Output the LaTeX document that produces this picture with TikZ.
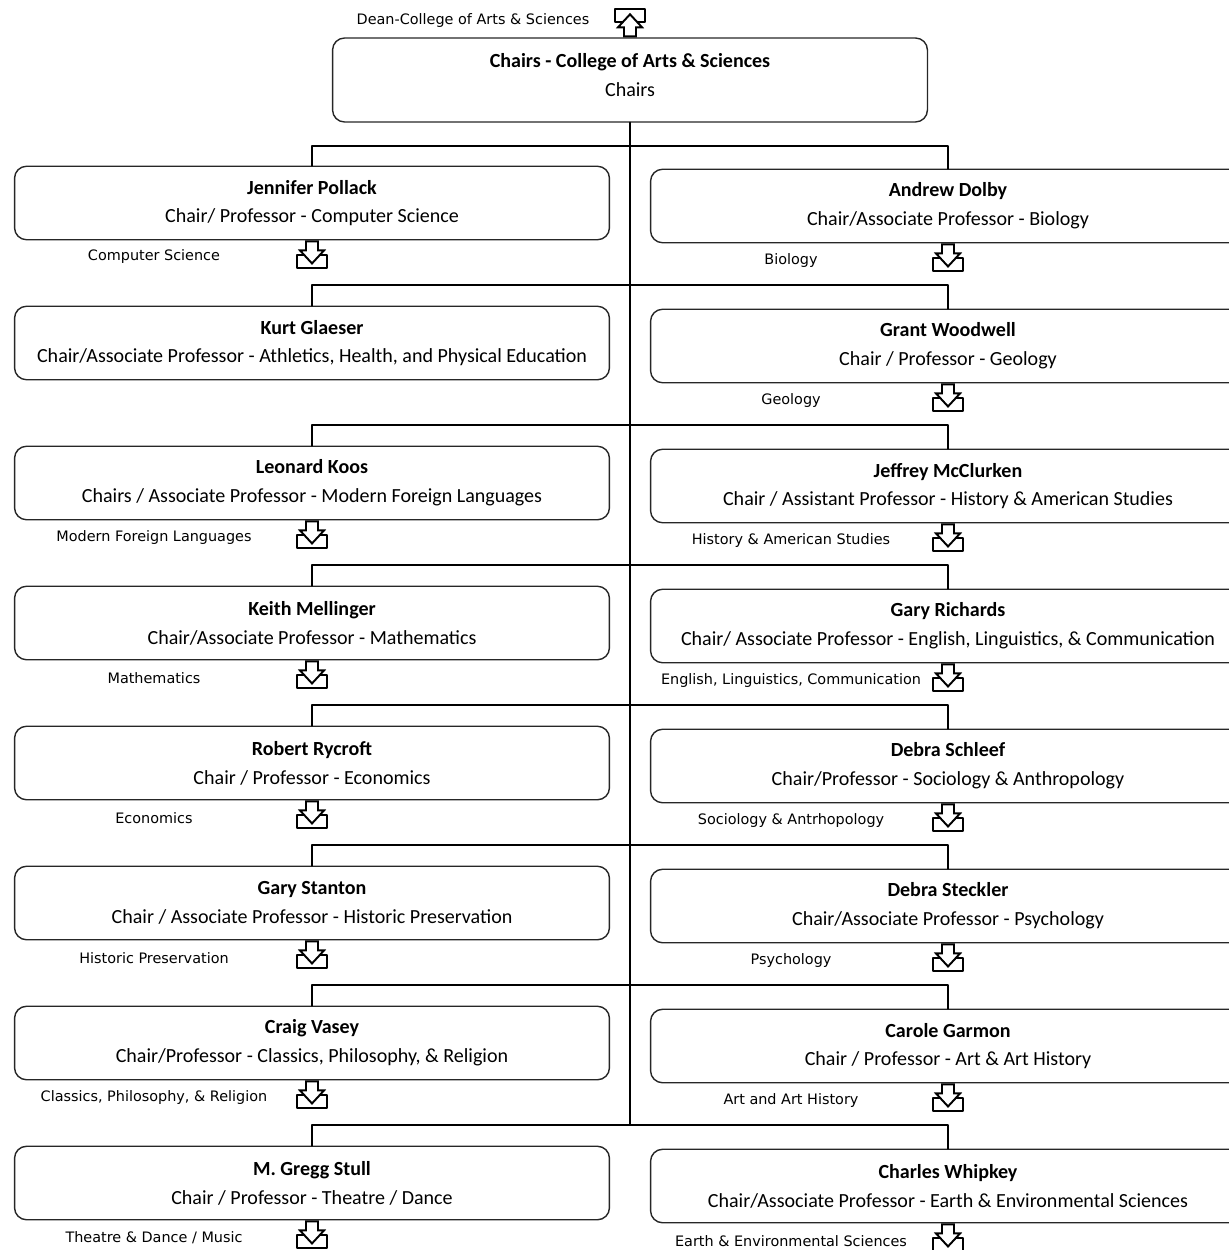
\documentclass[tikz,border=0pt]{standalone}
\usepackage{fontspec}
\setmainfont{Carlito}
\newfontfamily\deptfont{DejaVu Sans}
\tikzset{
	chairbox/.style={draw=black!85,line width=0.8pt,rounded corners=0.24cm,minimum width=11.9cm,minimum height=1.47cm,align=center,inner sep=0pt,font=\fontsize{11.4}{16.4}\selectfont},
	deptlabel/.style={font=\deptfont\fontsize{8.2}{9}\selectfont,inner sep=0pt},
	link/.style={line width=1.1pt},
	tray/.pic={
		\draw[line width=1.1pt] (-15,15) rectangle (15,28);
		\filldraw[line width=1.1pt,fill=white,line join=miter] (-6,1) -- (-6,10) -- (-12,10) -- (0,23) -- (12,10) -- (6,10) -- (6,1) -- cycle;
	}
}

\begin{document}
\begin{tikzpicture}[x=0.02cm,y=-0.02cm,line cap=round,line join=round]
		\useasboundingbox (0,0) rectangle (1229,1250);
		\clip (0,0) rectangle (1229,1250);
		% head of the chart
		\node[chairbox,minimum height=1.68cm,text depth=0.2cm] (chairs) at (630,80) {\textbf{Chairs - College of Arts \& Sciences}\\Chairs};
		\node[deptlabel] (dean) at (473,21) {Dean-College of Arts \& Sciences};
		\pic[yscale=-1] at (chairs.north) {tray};
	
		% left column
		\node[chairbox] (pollack) at (312,203) {\textbf{Jennifer Pollack}\\Chair/ Professor - Computer Science};
		\node[chairbox] (glaeser) at (312,343) {\textbf{Kurt Glaeser}\\Chair/Associate Professor - Athletics, Health, and Physical Education};
		\node[chairbox] (koos) at (312,483) {\textbf{Leonard Koos}\\Chairs / Associate Professor - Modern Foreign Languages};
		\node[chairbox] (mellinger) at (312,623) {\textbf{Keith Mellinger}\\Chair/Associate Professor - Mathematics};
		\node[chairbox] (rycroft) at (312,763) {\textbf{Robert Rycroft}\\Chair / Professor - Economics};
		\node[chairbox] (stanton) at (312,903) {\textbf{Gary Stanton}\\Chair / Associate Professor - Historic Preservation};
		\node[chairbox] (vasey) at (312,1043) {\textbf{Craig Vasey}\\Chair/Professor - Classics, Philosophy, \& Religion};
		\node[chairbox] (stull) at (312,1183) {\textbf{M. Gregg Stull}\\Chair / Professor - Theatre / Dance};
	
		% right column
		\node[chairbox] (dolby) at (948,206) {\textbf{Andrew Dolby}\\Chair/Associate Professor - Biology};
		\node[chairbox] (woodwell) at (948,346) {\textbf{Grant Woodwell}\\Chair / Professor - Geology};
		\node[chairbox] (mcclurken) at (948,486) {\textbf{Jeffrey McClurken}\\Chair / Assistant Professor - History \& American Studies};
		\node[chairbox] (richards) at (948,626) {\textbf{Gary Richards}\\Chair/ Associate Professor - English, Linguistics, \& Communication};
		\node[chairbox] (schleef) at (948,766) {\textbf{Debra Schleef}\\Chair/Professor - Sociology \& Anthropology};
		\node[chairbox] (steckler) at (948,906) {\textbf{Debra Steckler}\\Chair/Associate Professor - Psychology};
		\node[chairbox] (garmon) at (948,1046) {\textbf{Carole Garmon}\\Chair / Professor - Art \& Art History};
		\node[chairbox] (whipkey) at (948,1186) {\textbf{Charles Whipkey}\\Chair/Associate Professor - Earth \& Environmental Sciences};
	
		% department labels
		\node[deptlabel] (cs) at (154,257) {Computer Science};
		\node[deptlabel] (mfl) at (154,538) {Modern Foreign Languages};
		\node[deptlabel] (math) at (154,678) {Mathematics};
		\node[deptlabel] (econ) at (154,818) {Economics};
		\node[deptlabel] (hp) at (154,958) {Historic Preservation};
		\node[deptlabel] (cpr) at (154,1098) {Classics, Philosophy, \& Religion};
		\node[deptlabel] (thd) at (154,1238) {Theatre \& Dance / Music};
		\node[deptlabel] (bio) at (791,261) {Biology};
		\node[deptlabel] (geo) at (791,401) {Geology};
		\node[deptlabel] (hist) at (791,541) {History \& American Studies};
		\node[deptlabel] (eng) at (791,681) {English, Linguistics, Communication};
		\node[deptlabel] (soc) at (791,821) {Sociology \& Antrhopology};
		\node[deptlabel] (psy) at (791,961) {Psychology};
		\node[deptlabel] (art) at (791,1101) {Art and Art History};
		\node[deptlabel] (ees) at (791,1241) {Earth \& Environmental Sciences};
	
		\pic at (pollack.south) {tray};
		\pic at (koos.south) {tray};
		\pic at (mellinger.south) {tray};
		\pic at (rycroft.south) {tray};
		\pic at (stanton.south) {tray};
		\pic at (vasey.south) {tray};
		\pic at (stull.south) {tray};
		\pic at (dolby.south) {tray};
		\pic at (woodwell.south) {tray};
		\pic at (mcclurken.south) {tray};
		\pic at (richards.south) {tray};
		\pic at (schleef.south) {tray};
		\pic at (steckler.south) {tray};
		\pic at (garmon.south) {tray};
		\pic at (whipkey.south) {tray};
	
		% connectors
		\coordinate (b1) at (630,146);
		\coordinate (b2) at (630,285);
		\coordinate (b3) at (630,425);
		\coordinate (b4) at (630,565);
		\coordinate (b5) at (630,705);
		\coordinate (b6) at (630,845);
		\coordinate (b7) at (630,985);
		\coordinate (b8) at (630,1125);
		\draw[link] (chairs.south) -- (b8);
		\draw[link] (pollack.north) |- (b1) -| (dolby.north);
		\draw[link] (glaeser.north) |- (b2) -| (woodwell.north);
		\draw[link] (koos.north) |- (b3) -| (mcclurken.north);
		\draw[link] (mellinger.north) |- (b4) -| (richards.north);
		\draw[link] (rycroft.north) |- (b5) -| (schleef.north);
		\draw[link] (stanton.north) |- (b6) -| (steckler.north);
		\draw[link] (vasey.north) |- (b7) -| (garmon.north);
		\draw[link] (stull.north) |- (b8) -| (whipkey.north);
	\end{tikzpicture}
\end{document}
